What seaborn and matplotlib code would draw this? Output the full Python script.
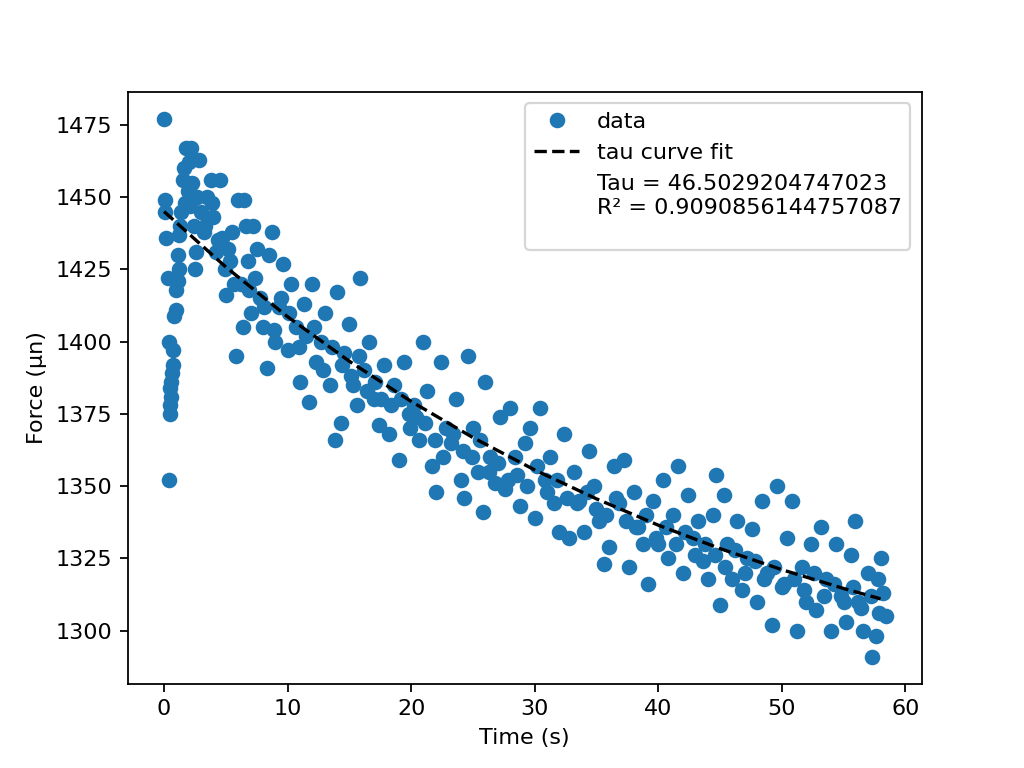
import matplotlib
matplotlib.use("Agg")
import matplotlib.pyplot as plt
import seaborn as sns
import pandas as pd

time_s = [0, 0.05, 0.1, 0.15, 0.3, 0.4, 0.4, 0.45, 0.5, 0.5, 0.55, 0.6, 0.65, 0.7, 0.7, 0.8, 1.0, 1.0, 1.1, 1.1,
          1.2, 1.2, 1.3, 1.4, 1.5, 1.6, 1.7, 1.8, 1.9, 2.0, 2.1, 2.2, 2.3, 2.4, 2.5, 2.6, 2.7, 2.8, 3.0, 3.2,
          3.5, 3.8, 4.0, 4.2, 4.5, 4.7, 4.9, 5.0, 5.2, 5.5, 5.8, 6.0, 6.2, 6.4, 6.5, 6.6, 6.8, 7.0, 7.2, 7.5,
          7.8, 8.0, 8.3, 8.5, 8.7, 9.0, 9.3, 9.6, 10, 10.3, 10.7, 11, 11.3, 11.7, 12, 12.3, 12.7, 13, 13.4, 13.8,
          14, 14.3, 14.6, 15, 15.3, 15.6, 15.9, 16.2, 16.6, 17, 17.4, 17.8, 18.2, 18.6, 19, 19.4, 19.8, 20.2, 20.6, 21,
          21.3, 21.7, 22, 22.4, 22.8, 23.2, 23.6, 24, 24.3, 24.6, 25, 25.4, 25.8, 26, 26.4, 26.8, 27.2, 27.6, 28, 28.4,
          28.8, 29.2, 29.6, 30, 30.4, 30.8, 31.2, 31.6, 32, 32.4, 32.8, 33.2, 33.6, 34, 34.4, 34.8, 35.2, 35.6, 36, 36.4,
          36.8, 37.2, 37.6, 38, 38.4, 38.8, 39.2, 39.6, 40, 40.4, 40.8, 41.2, 41.6, 42, 42.4, 42.8, 43.2, 43.6, 44, 44.4,
          44.7, 45, 45.3, 45.6, 46, 46.4, 46.8, 47.2, 47.6, 48, 48.4, 48.8, 49.2, 49.6, 50, 50.4, 50.8, 51.2, 51.6, 52,
          52.4, 52.8, 53.2, 53.6, 54, 54.4, 54.8, 55.2, 55.6, 55.9, 56.2, 56.6, 57, 57.3, 57.6, 57.8, 58, 58.2, 58.4,
          # denser band
          3.3, 3.9, 4.4, 5.3, 5.7, 6.9, 7.4, 8.1, 8.9, 9.5, 10.1, 10.9, 11.5, 12.1, 12.9, 13.6, 14.4, 15.1, 15.8, 16.4,
          17.1, 17.6, 18.4, 19.2, 19.9, 20.4, 21.1, 21.9, 22.6, 23.4, 24.2, 24.9, 25.6, 26.3, 27.0, 27.8, 28.6, 29.4, 30.2, 31.0,
          31.8, 32.6, 33.4, 34.2, 35.0, 35.8, 36.6, 37.4, 38.2, 39.0, 39.8, 40.6, 41.4, 42.2, 43.0, 43.8, 44.6, 45.4, 46.2, 47.0,
          47.8, 48.6, 49.4, 50.2, 51.0, 51.8, 52.6, 53.4, 54.2, 55.0, 55.8, 56.4, 57.2, 57.9]
force_un = [1477, 1445, 1449, 1436, 1422, 1352, 1400, 1375, 1378, 1384, 1381, 1386, 1389, 1392, 1397, 1409, 1411, 1418, 1421, 1430,
            1425, 1437, 1440, 1445, 1456, 1460, 1448, 1467, 1452, 1462, 1447, 1467, 1455, 1440, 1425, 1431, 1450, 1463, 1445, 1438,
            1450, 1456, 1443, 1431, 1456, 1436, 1425, 1416, 1432, 1438, 1395, 1449, 1420, 1405, 1449, 1440, 1428, 1410, 1440, 1432,
            1415, 1405, 1391, 1430, 1438, 1400, 1412, 1427, 1397, 1420, 1405, 1386, 1413, 1379, 1420, 1393, 1400, 1410, 1385, 1366,
            1417, 1372, 1396, 1406, 1385, 1378, 1422, 1390, 1400, 1380, 1371, 1392, 1368, 1385, 1359, 1393, 1375, 1378, 1366, 1400,
            1383, 1357, 1348, 1393, 1370, 1365, 1380, 1352, 1346, 1395, 1370, 1355, 1341, 1386, 1360, 1351, 1374, 1349, 1377, 1360,
            1343, 1365, 1370, 1339, 1377, 1352, 1360, 1344, 1334, 1368, 1332, 1355, 1345, 1334, 1362, 1350, 1338, 1323, 1329, 1357,
            1344, 1359, 1322, 1348, 1336, 1330, 1316, 1345, 1330, 1352, 1325, 1340, 1357, 1320, 1347, 1332, 1338, 1324, 1318, 1340,
            1354, 1309, 1347, 1330, 1318, 1338, 1314, 1325, 1335, 1310, 1345, 1320, 1302, 1350, 1315, 1332, 1345, 1300, 1322, 1310,
            1330, 1307, 1336, 1318, 1300, 1330, 1312, 1303, 1326, 1338, 1310, 1300, 1320, 1291, 1298, 1318, 1325, 1313, 1305,
            1440, 1448, 1435, 1428, 1420, 1418, 1422, 1412, 1404, 1415, 1410, 1398, 1402, 1405, 1390, 1398, 1392, 1388, 1395, 1383,
            1386, 1380, 1378, 1380, 1370, 1374, 1372, 1366, 1360, 1368, 1362, 1360, 1366, 1355, 1358, 1352, 1354, 1350, 1357, 1348,
            1352, 1346, 1344, 1348, 1342, 1340, 1346, 1338, 1336, 1340, 1332, 1336, 1330, 1334, 1326, 1330, 1326, 1322, 1328, 1320,
            1324, 1318, 1322, 1316, 1318, 1314, 1320, 1312, 1316, 1310, 1315, 1308, 1312, 1306]

# Fitted curve values
fit_time = [0, 5, 10, 15, 20, 25, 30, 35, 40, 45, 50, 55, 58]
fit_force = [1445, 1425.8, 1408.6, 1393.2, 1379.3, 1366.8, 1355.6, 1345.6, 1336.5, 1328.4, 1321.1, 1314.6, 1311]

df = pd.DataFrame({"t": time_s, "f": force_un})
fit = pd.DataFrame({"t": fit_time, "f": fit_force})

sns.set_style("ticks")
plt.rcParams['font.family'] = ['DejaVu Sans']
for k in ["text.color", "axes.labelcolor", "xtick.color", "ytick.color", "axes.edgecolor"]:
    plt.rcParams[k] = "black"
fig, ax = plt.subplots(figsize=(6.4, 4.8), dpi=160)

ax.plot(df["t"], df["f"], "o", color="#1f77b4", label="data")
sns.lineplot(data=fit, x="t", y="f", ax=ax, color="black", linestyle="--", label="tau curve fit")
ax.plot([], [], " ", label="Tau = 46.5029204747023\nR² = 0.9090856144757087\n")

ax.set_xlabel("Time (s)")
ax.set_ylabel("Force (µn)")
ax.legend(loc="upper right")
plt.savefig("out.png")
